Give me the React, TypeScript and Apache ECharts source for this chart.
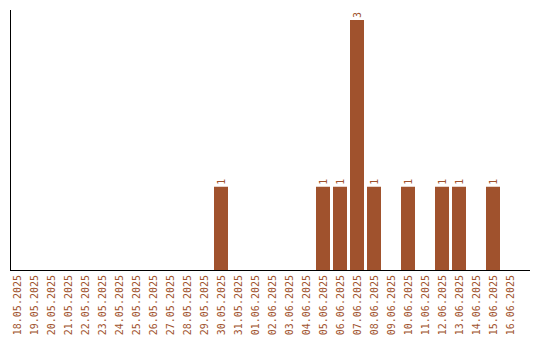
import React, { useEffect, useRef } from "react";
import * as echarts from "echarts";

const categories: string[] = [
  "18.05.2025", "19.05.2025", "20.05.2025", "21.05.2025", "22.05.2025", "23.05.2025",
  "24.05.2025", "25.05.2025", "26.05.2025", "27.05.2025", "28.05.2025", "29.05.2025",
  "30.05.2025", "31.05.2025", "01.06.2025", "02.06.2025", "03.06.2025", "04.06.2025",
  "05.06.2025", "06.06.2025", "07.06.2025", "08.06.2025", "09.06.2025", "10.06.2025",
  "11.06.2025", "12.06.2025", "13.06.2025", "14.06.2025", "15.06.2025", "16.06.2025",
];
const values: (number | null)[] = [
  null, null, null, null, null, null,
  null, null, null, null, null, null,
  1, null, null, null, null, null,
  1, 1, 3, 1, null, 1,
  null, 1, 1, null, 1, null,
];

const COLOR = "#A0522D";
const FONT = "DejaVu Sans Mono";

export default function App() {
  const ref = useRef<HTMLDivElement>(null);
  useEffect(() => {
    if (!ref.current) return;
    const chart = echarts.init(ref.current, null, { renderer: "svg" });
    chart.setOption({
      animation: false,
      backgroundColor: "#ffffff",
      grid: { left: 8.5, top: 20, width: 510, height: 250 },
      xAxis: {
        type: "category",
        data: categories,
        axisLine: { show: false },
        axisTick: { show: false },
        axisLabel: {
          rotate: 90,
          interval: 0,
          color: COLOR,
          fontFamily: FONT,
          fontSize: 10,
          margin: 5,
        },
      },
      yAxis: {
        type: "value",
        min: 0,
        max: 3,
        show: false,
      },
      series: [
        {
          type: "bar",
          data: values,
          barWidth: 14,
          itemStyle: { color: COLOR },
          label: {
            show: true,
            position: "top",
            rotate: 90,
            distance: 2,
            align: "left",
            verticalAlign: "middle",
            color: COLOR,
            fontFamily: FONT,
            fontSize: 10,
          },
        },
      ],
      graphic: [
        {
          type: "line",
          shape: { x1: 10.5, y1: 10, x2: 10.5, y2: 270.5 },
          style: { stroke: "#000", lineWidth: 1 },
          silent: true,
        },
        {
          type: "line",
          shape: { x1: 10, y1: 270.5, x2: 530, y2: 270.5 },
          style: { stroke: "#000", lineWidth: 1 },
          silent: true,
        },
      ],
    });
    return () => chart.dispose();
  }, []);
  return (
    <div
      ref={ref}
      style={{ position: "fixed", left: 0, top: 0, width: 540, height: 340, background: "#fff" }}
    />
  );
}
